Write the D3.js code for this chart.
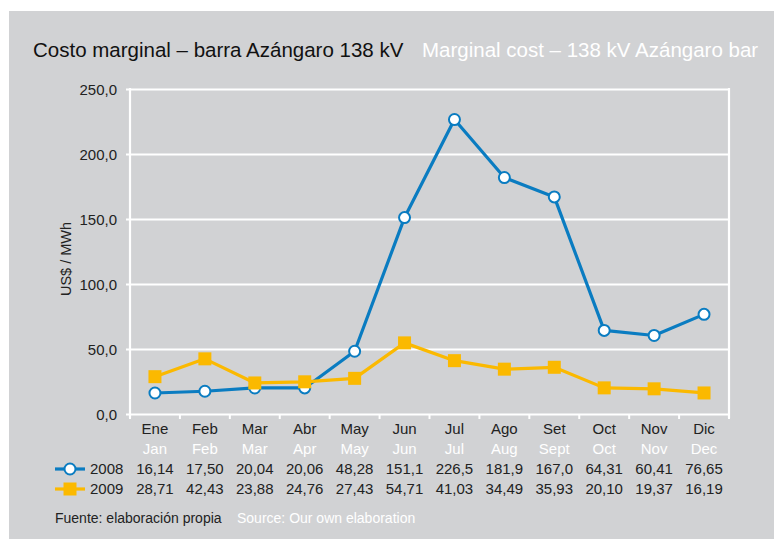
<!DOCTYPE html>
<html>
<head>
<meta charset="utf-8">
<script src="https://cdn.jsdelivr.net/npm/d3@7"></script>
<style>
  html, body { margin: 0; padding: 0; background: #ffffff; }
  svg { display: block; }
  text { font-family: "Liberation Sans", Arial, sans-serif; }
</style>
</head>
<body>
<script>
// Monthly marginal cost at the 138 kV Azángaro bus (US$/MWh)
const monthsEs = ["Ene","Feb","Mar","Abr","May","Jun","Jul","Ago","Set","Oct","Nov","Dic"];
const monthsEn = ["Jan","Feb","Mar","Apr","May","Jun","Jul","Aug","Sept","Oct","Nov","Dec"];
const values2008 = [16.14,17.50,20.04,20.06,48.28,151.1,226.5,181.9,167.0,64.31,60.41,76.65];
const values2009 = [28.71,42.43,23.88,24.76,27.43,54.71,41.03,34.49,35.93,20.10,19.37,16.19];
const labels2008 = ["16,14","17,50","20,04","20,06","48,28","151,1","226,5","181,9","167,0","64,31","60,41","76,65"];
const labels2009 = ["28,71","42,43","23,88","24,76","27,43","54,71","41,03","34,49","35,93","20,10","19,37","16,19"];
const yTicks = [0,50,100,150,200,250];

const W = 774, H = 539;
const BLUE = "#0a7cc1", GOLD = "#fbb900", PANEL = "#d1d2d4";

const svg = d3.select("body").append("svg").attr("width", W).attr("height", H);

// grey panel
svg.append("rect").attr("x", 9).attr("y", 11).attr("width", W - 9).attr("height", H - 11).attr("fill", PANEL);

// titles
svg.append("text").attr("x", 33).attr("y", 57).attr("font-size", 20.5).attr("fill", "#111")
  .text("Costo marginal – barra Azángaro 138 kV");
svg.append("text").attr("x", 422).attr("y", 57).attr("font-size", 20.5).attr("fill", "#ffffff")
  .text("Marginal cost – 138 kV Azángaro bar");

const x = d3.scaleBand().domain(monthsEs).range([130, 729]);
const y = d3.scaleLinear().domain([0, 250]).range([414, 89]);

// horizontal gridlines with left tick stubs
const yAxis = d3.axisLeft(y).tickValues(yTicks).tickSize(-(729 - 126)).tickPadding(9)
  .tickFormat(d => d3.format(".1f")(d).replace(".", ","));
const gy = svg.append("g").attr("transform", "translate(126,0)").call(yAxis);
gy.select(".domain").remove();
gy.selectAll(".tick line").attr("stroke", "#ffffff").attr("stroke-width", 2.2);
gy.selectAll(".tick text").attr("font-size", 15).attr("fill", "#222").attr("dy", "0.36em")
  .attr("font-family", "'Liberation Sans', Arial, sans-serif");

// frame verticals
svg.append("line").attr("x1", 130).attr("x2", 130).attr("y1", 88).attr("y2", 418)
  .attr("stroke", "#fff").attr("stroke-width", 2.2);
svg.append("line").attr("x1", 729).attr("x2", 729).attr("y1", 88).attr("y2", 418)
  .attr("stroke", "#fff").attr("stroke-width", 2.2);

// x axis with ticks at band edges
const edges = monthsEs.map(m => x(m)).concat([729]);
svg.selectAll(".xtick").data(edges).enter().append("line")
  .attr("x1", d => d).attr("x2", d => d).attr("y1", 414).attr("y2", 419)
  .attr("stroke", "#fff").attr("stroke-width", 2);

// month labels
const cx = m => x(m) + x.bandwidth() / 2;
svg.selectAll(".mes").data(monthsEs).enter().append("text")
  .attr("x", d => cx(d)).attr("y", 434).attr("text-anchor", "middle")
  .attr("font-size", 15).attr("fill", "#222").text(d => d);
svg.selectAll(".mon").data(monthsEn).enter().append("text")
  .attr("x", (d, i) => cx(monthsEs[i])).attr("y", 454).attr("text-anchor", "middle")
  .attr("font-size", 15).attr("fill", "#ffffff").text(d => d);

// y axis title
svg.append("text").attr("transform", "translate(71,259) rotate(-90)").attr("text-anchor", "middle")
  .attr("font-size", 14.5).attr("fill", "#222").text("US$ / MWh");

// series lines
const line = d3.line().x((d, i) => cx(monthsEs[i])).y(d => y(d));
svg.append("path").datum(values2008).attr("d", line).attr("fill", "none")
  .attr("stroke", BLUE).attr("stroke-width", 3.2).attr("stroke-linejoin", "round");
svg.selectAll(".p08").data(values2008).enter().append("circle")
  .attr("cx", (d, i) => cx(monthsEs[i])).attr("cy", d => y(d)).attr("r", 5.5)
  .attr("fill", "#fff").attr("stroke", BLUE).attr("stroke-width", 2);

svg.append("path").datum(values2009).attr("d", line).attr("fill", "none")
  .attr("stroke", GOLD).attr("stroke-width", 3.2).attr("stroke-linejoin", "round");
const sq = 13;
svg.selectAll(".p09").data(values2009).enter().append("rect")
  .attr("x", (d, i) => cx(monthsEs[i]) - sq / 2).attr("y", d => y(d) - sq / 2)
  .attr("width", sq).attr("height", sq).attr("fill", GOLD);

// data table with legend keys
const rows = [
  { name: "2008", labels: labels2008, yb: 474 },
  { name: "2009", labels: labels2009, yb: 494 }
];
rows.forEach((r, k) => {
  const cy = r.yb - 5;
  svg.append("line").attr("x1", 55).attr("x2", 85).attr("y1", cy).attr("y2", cy)
    .attr("stroke", k === 0 ? BLUE : GOLD).attr("stroke-width", 3.2);
  if (k === 0) {
    svg.append("circle").attr("cx", 70).attr("cy", cy).attr("r", 5.5)
      .attr("fill", "#fff").attr("stroke", BLUE).attr("stroke-width", 2);
  } else {
    svg.append("rect").attr("x", 70 - sq / 2).attr("y", cy - sq / 2).attr("width", sq).attr("height", sq).attr("fill", GOLD);
  }
  svg.append("text").attr("x", 90).attr("y", r.yb).attr("font-size", 15).attr("fill", "#222").text(r.name);
  svg.selectAll(".v" + k).data(r.labels).enter().append("text")
    .attr("x", (d, i) => cx(monthsEs[i])).attr("y", r.yb).attr("text-anchor", "middle")
    .attr("font-size", 15).attr("fill", "#222").text(d => d);
});

// source note
svg.append("text").attr("x", 55).attr("y", 523).attr("font-size", 14).attr("fill", "#222")
  .text("Fuente: elaboración propia");
svg.append("text").attr("x", 237).attr("y", 523).attr("font-size", 14).attr("fill", "#ffffff")
  .text("Source: Our own elaboration");
</script>
</body>
</html>
